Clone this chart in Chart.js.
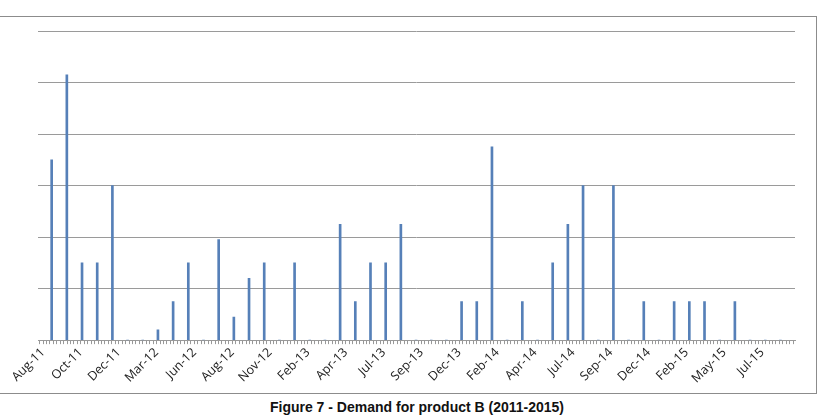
<!DOCTYPE html>
<html>
<head>
<meta charset="utf-8">
<script src="https://cdn.jsdelivr.net/npm/chart.js@4"></script>
<style>
    body { margin: 0; background: #fff; width: 829px; height: 416px; overflow: hidden; position: relative; }
    .frame { position: absolute; left: -1px; top: 16px; width: 818px; height: 378px; border: 1px solid #8c8c8c; box-sizing: border-box; border-left: none; }
    .chart-box { position: absolute; left: 0; top: 17px; width: 816px; height: 376px; }
    .caption { position: absolute; left: 0; top: 399px; width: 834px; text-align: center;
        font-family: "Liberation Sans", Arial, sans-serif; font-weight: bold; font-size: 14px; color: #111; }
</style>
</head>
<body>
<div class="frame"></div>
<div class="chart-box"><canvas class="demandChart"></canvas></div>
<div class="caption">Figure 7 - Demand for product B (2011-2015)</div>
<script>
const months = ['Aug-11', 'Sep-11', 'Oct-11', 'Nov-11', 'Dec-11', 'Jan-12', 'Feb-12', 'Mar-12', 'Apr-12', 'May-12',
    'Jun-12', 'Jul-12', 'Aug-12', 'Sep-12', 'Oct-12', 'Nov-12', 'Dec-12', 'Jan-13', 'Feb-13', 'Mar-13',
    'Apr-13', 'May-13', 'Jun-13', 'Jul-13', 'Aug-13', 'Sep-13', 'Oct-13', 'Nov-13', 'Dec-13', 'Jan-14',
    'Feb-14', 'Mar-14', 'Apr-14', 'May-14', 'Jun-14', 'Jul-14', 'Aug-14', 'Sep-14', 'Oct-14', 'Nov-14',
    'Dec-14', 'Jan-15', 'Feb-15', 'Mar-15', 'Apr-15', 'May-15', 'Jun-15', 'Jul-15', 'Aug-15'];

const demand = [70, 103, 30, 30, 60, 0, 0, 4, 15, 30,
    0, 39, 9, 24, 30, 0, 30, 0, 0, 45,
    15, 30, 30, 45, 0, 0, 0, 15, 15, 75,
    0, 15, 0, 30, 45, 60, 0, 60, 0, 15,
    0, 15, 15, 15, 0, 15, 0, 0, 0];

const tickLabels = ['Aug-11', 'Oct-11', 'Dec-11', 'Mar-12', 'Jun-12', 'Aug-12', 'Nov-12', 'Feb-13', 'Apr-13', 'Jul-13',
    'Sep-13', 'Dec-13', 'Feb-14', 'Apr-14', 'Jul-14', 'Sep-14', 'Dec-14', 'Feb-15', 'May-15', 'Jul-15'];

// axis in month units, month 0 = first bar
const axisMin = -0.9;
const axisMax = 48.96;
const labelStart = -0.57;
const labelStep = 2.493;
const minorPerLabel = 11;

const chartCanvas = document.querySelector('.demandChart');

function buildTicks(scale) {
    const step = labelStep / minorPerLabel;
    const ticks = [];
    let i = 0;
    while (labelStart + (i - 1) * step >= axisMin) i--;
    for (; labelStart + i * step <= axisMax; i++) {
        ticks.push({ value: labelStart + i * step, weekIdx: i });
    }
    scale.ticks = ticks;
}

new Chart(chartCanvas, {
    type: 'bar',
    data: {
        datasets: [{
            label: 'Demand',
            data: months.map((m, i) => ({ x: i, y: demand[i] })),
            backgroundColor: '#5680b8',
            borderWidth: 0,
            barThickness: 2
        }]
    },
    options: {
        responsive: true,
        maintainAspectRatio: false,
        animation: false,
        layout: { padding: { left: 38, right: 21, top: 14, bottom: 6 } },
        scales: {
            x: {
                type: 'linear',
                min: axisMin,
                max: axisMax,
                offset: false,
                afterBuildTicks: buildTicks,
                grid: { display: true, offset: false, drawOnChartArea: false, tickLength: 4, color: '#999' },
                border: { display: true, color: '#999' },
                ticks: {
                    autoSkip: false,
                    minRotation: 45,
                    maxRotation: 45,
                    padding: 1,
                    color: '#222',
                    font: { family: 'Open Sans', size: 12.5 },
                    callback: function (value, index, ticks) {
                        const w = ticks[index].weekIdx;
                        if (w >= 0 && w % minorPerLabel === 0) {
                            return tickLabels[w / minorPerLabel] || '';
                        }
                        return '';
                    }
                }
            },
            y: {
                min: 0,
                max: 120,
                ticks: { display: false, stepSize: 20 },
                grid: { color: '#9a9a9a', drawTicks: false },
                border: { display: false }
            }
        },
        plugins: {
            legend: { display: false },
            tooltip: { enabled: false }
        }
    }
});
</script>
</body>
</html>
